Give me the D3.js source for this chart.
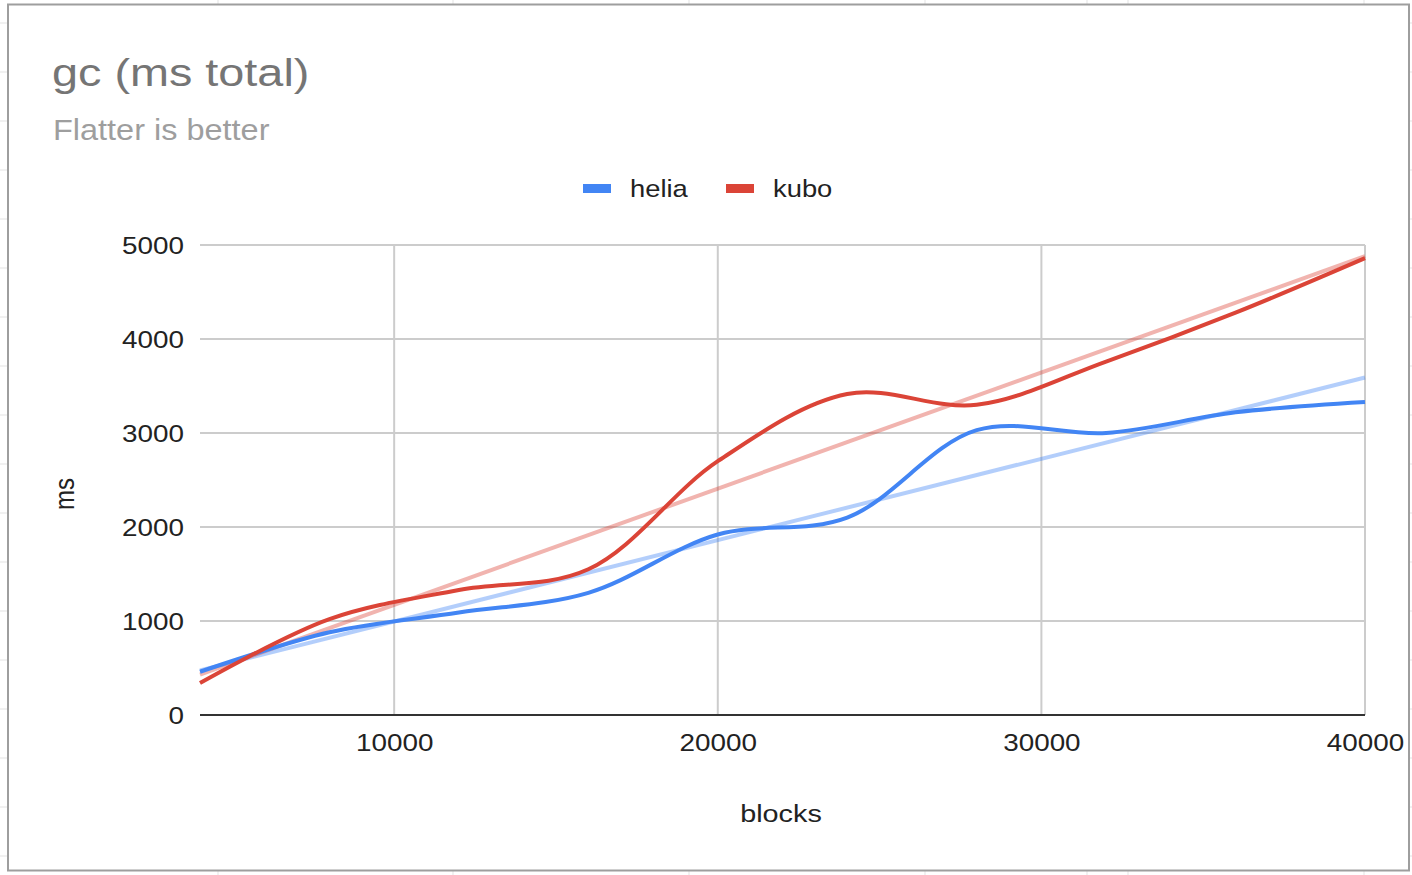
<!DOCTYPE html>
<html>
<head>
<meta charset="utf-8">
<script src="https://cdn.jsdelivr.net/npm/d3@7"></script>
<style>
  html, body { margin: 0; padding: 0; background: #fff; }
  svg { display: block; }
  text { font-family: "Liberation Sans", Arial, sans-serif; }
</style>
</head>
<body>
<svg id="chart" width="1412" height="875"></svg>
<script>
// ---- data ----
const blocks = [4000, 8000, 12000, 16000, 20000, 24000, 28000, 32000, 36000, 40000];
const helia  = [460, 880, 1090, 1300, 1920, 2100, 3030, 3000, 3220, 3330];
const kubo   = [340, 1020, 1330, 1550, 2700, 3415, 3300, 3760, 4280, 4860];
const seriesNames = ["helia", "kubo"];
const seriesColors = ["#4285f4", "#db4437"];
const xTicks = [10000, 20000, 30000, 40000];
const yTicks = [0, 1000, 2000, 3000, 4000, 5000];

const titleText = "gc (ms total)";
const subtitleText = "Flatter is better";
const xTitle = "blocks";
const yTitle = "ms";

// ---- layout ----
const W = 1412, H = 875;
const plot = { left: 200, right: 1365, top: 245, bottom: 715 };
const stretch = 1.16; // horizontal text scale

const svg = d3.select("#chart");

// spreadsheet cells behind the chart
const sheetCols = [218, 453, 689, 925, 1087, 1128, 1364];
const bg = svg.append("g");
bg.selectAll("line.col").data(sheetCols).join("line")
  .attr("x1", d => d).attr("x2", d => d).attr("y1", 0).attr("y2", H)
  .attr("stroke", "#e3e3e3").attr("stroke-width", 1);
bg.selectAll("line.row").data(d3.range(23, H, 49)).join("line")
  .attr("x1", 0).attr("x2", W).attr("y1", d => d).attr("y2", d => d)
  .attr("stroke", "#e3e3e3").attr("stroke-width", 1);

// chart frame
svg.append("rect")
  .attr("x", 8).attr("y", 4.5).attr("width", 1401).attr("height", 866)
  .attr("fill", "#fff").attr("stroke", "#9e9e9e").attr("stroke-width", 2);

function stext(sel, x, y, s) {
  return sel.attr("transform", `translate(${x},${y}) scale(${s},1)`);
}

// titles
stext(svg.append("text"), 52, 86, 1.2)
  .attr("font-size", 39).attr("fill", "#757575").text(titleText);
stext(svg.append("text"), 53, 140, 1.12)
  .attr("font-size", 29).attr("fill", "#9e9e9e").text(subtitleText);

// scales
const x = d3.scaleLinear().domain([d3.min(blocks), d3.max(blocks)]).range([plot.left, plot.right]);
const y = d3.scaleLinear().domain([0, 5000]).range([plot.bottom, plot.top]);

// gridlines
const grid = svg.append("g");
grid.selectAll("line.h").data(yTicks.filter(d => d > 0)).join("line")
  .attr("x1", plot.left).attr("x2", plot.right)
  .attr("y1", d => y(d)).attr("y2", d => y(d))
  .attr("stroke", "#cccccc").attr("stroke-width", 2);
grid.selectAll("line.v").data(xTicks).join("line")
  .attr("x1", d => x(d)).attr("x2", d => x(d))
  .attr("y1", plot.top).attr("y2", plot.bottom)
  .attr("stroke", "#cccccc").attr("stroke-width", 2);

// tick labels drawn through d3 axes (no tick lines or domain path)
const yAxis = svg.append("g").attr("transform", `translate(${plot.left - 16},0)`)
  .call(d3.axisLeft(y).tickValues(yTicks).tickSize(0).tickPadding(0).tickFormat(d3.format("d")));
yAxis.select(".domain").remove();
yAxis.selectAll("text")
  .attr("font-size", 24).attr("fill", "#222").attr("font-family", null)
  .attr("dy", "0.36em")
  .attr("transform", `scale(${stretch},1)`)
  .attr("x", 0);

const xAxis = svg.append("g").attr("transform", `translate(0,${plot.bottom + 19})`)
  .call(d3.axisBottom(x).tickValues(xTicks).tickSize(0).tickPadding(0).tickFormat(d3.format("d")));
xAxis.select(".domain").remove();
xAxis.selectAll("text")
  .attr("font-size", 24).attr("fill", "#222").attr("font-family", null)
  .attr("dy", "0.71em")
  .attr("transform", `scale(${stretch},1)`);

// baseline
svg.append("line")
  .attr("x1", plot.left).attr("x2", plot.right)
  .attr("y1", y(0)).attr("y2", y(0))
  .attr("stroke", "#333").attr("stroke-width", 2);

// axis titles
stext(svg.append("text"), 781, 822, 1.2)
  .attr("font-size", 24).attr("fill", "#222").attr("text-anchor", "middle").text(xTitle);
svg.append("text")
  .attr("transform", `translate(74,494) rotate(-90) scale(1,${stretch})`)
  .attr("font-size", 24).attr("fill", "#222").attr("text-anchor", "middle").text(yTitle);

// series
const seriesData = [helia, kubo].map((vals, i) => ({
  name: seriesNames[i], color: seriesColors[i],
  points: blocks.map((b, j) => [b, vals[j]])
}));

// least-squares trendline for each series
function trend(points) {
  const mx = d3.mean(points, p => p[0]), my = d3.mean(points, p => p[1]);
  const sxy = d3.sum(points, p => (p[0] - mx) * (p[1] - my));
  const sxx = d3.sum(points, p => (p[0] - mx) ** 2);
  const m = sxy / sxx, b = my - m * mx;
  const [x0, x1] = d3.extent(points, p => p[0]);
  return [[x0, m * x0 + b], [x1, m * x1 + b]];
}

const lineStraight = d3.line().x(d => x(d[0])).y(d => y(d[1]));
const lineSmooth = d3.line().x(d => x(d[0])).y(d => y(d[1])).curve(d3.curveCatmullRom.alpha(0.5));

const marks = svg.append("g");
seriesData.forEach(s => {
  marks.append("path").datum(trend(s.points))
    .attr("d", lineStraight).attr("fill", "none")
    .attr("stroke", s.color).attr("stroke-opacity", 0.4).attr("stroke-width", 4);
});
seriesData.forEach(s => {
  marks.append("path").datum(s.points)
    .attr("d", lineSmooth).attr("fill", "none")
    .attr("stroke", s.color).attr("stroke-width", 4)
    .attr("stroke-linejoin", "round").attr("stroke-linecap", "butt");
});

// legend
const legendPos = [583, 726];
const legend = svg.append("g");
seriesData.forEach((s, i) => {
  legend.append("rect").attr("x", legendPos[i]).attr("y", 184)
    .attr("width", 28).attr("height", 9).attr("fill", s.color);
  stext(legend.append("text"), legendPos[i] + 47, 197, 1.14)
    .attr("font-size", 24).attr("fill", "#222").text(s.name);
});
</script>
</body>
</html>
